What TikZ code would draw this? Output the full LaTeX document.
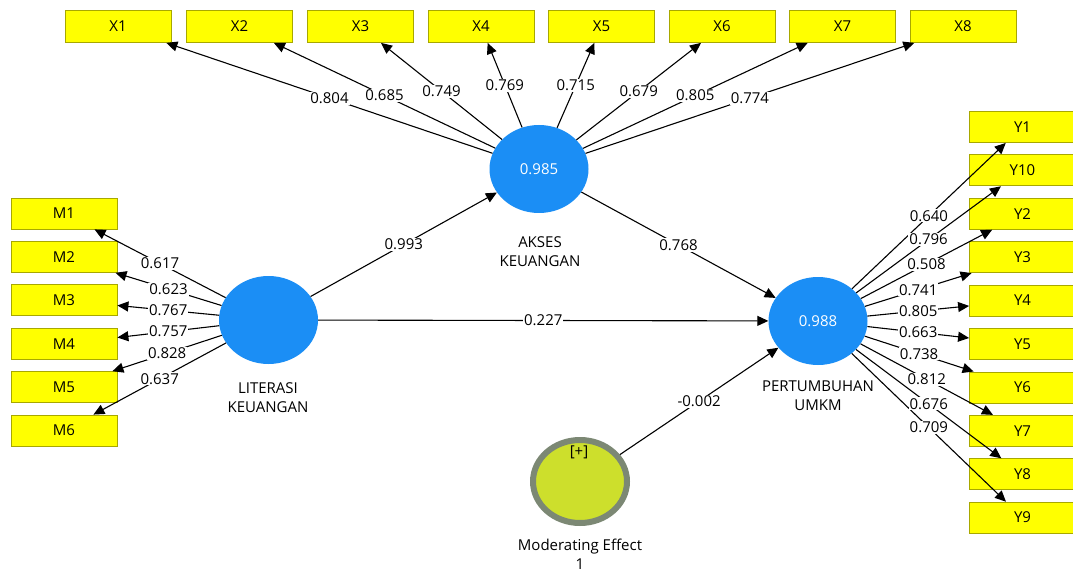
\documentclass[tikz,border=0pt]{standalone}
\usepackage{fontspec}
\setmainfont{Open Sans}
\usetikzlibrary{arrows.meta,shapes.geometric}
\definecolor{boxfill}{HTML}{FFFF00}
\definecolor{boxline}{HTML}{A8A800}
\definecolor{lvblue}{HTML}{1B8EF5}
\definecolor{modfill}{HTML}{CDDF2C}
\definecolor{modline}{HTML}{7C8874}
\newcommand{\dfont}{\fontsize{15}{19}\selectfont}
\begin{document}
\begin{tikzpicture}[x=1pt,y=-1pt,
  ind/.style={draw=boxline, fill=boxfill, line width=0.8pt, minimum width=106pt,
    minimum height=31pt, inner sep=0pt, font=\dfont},
  lv/.style={ellipse, fill=lvblue, minimum width=99pt, minimum height=88pt,
    inner sep=0pt, text=white, font=\dfont},
  modlv/.style={ellipse, fill=modfill, draw=modline, line width=6pt,
    minimum width=94pt, minimum height=83pt, inner sep=0pt, outer sep=3pt},
  link/.style={line width=1.1pt, -{Triangle[length=11pt,width=10pt]}},
  coef/.style={fill=white, inner sep=1pt, font=\dfont},
  lvname/.style={align=center, font=\dfont, inner sep=0pt}]
\useasboundingbox[fill=white] (0,0) rectangle (1073,572);

% latent variables
\node[lv] (L) at (268.5,320) {};
\node[lv] (A) at (539,169) {0.985};
\node[lv] (P) at (818,321) {0.988};
\node[modlv] (ME) at (580,481.5) {};
\node[font=\dfont, inner sep=0pt] (MEp) at (579,452) {[+]};

\node[lvname] (Ln) at (268,397.5) {LITERASI\\KEUANGAN};
\node[lvname] (An) at (540,252) {AKSES\\KEUANGAN};
\node[lvname] (Pn) at (818,396) {PERTUMBUHAN\\UMKM};
\node[lvname] (MEn) at (580,554.5) {Moderating Effect\\1};

% indicators
\foreach \i/\x in {1/118,2/239.5,3/360.5,4/481,5/601.5,6/722,7/842.5,8/963}
  \node[ind, minimum height=32pt] (X\i) at (\x,26.5) {X\i};
\foreach \i [count=\k from 0] in {1,2,3,4,5,6}
  \node[ind] (M\i) at (64,213.5+43.4*\k) {M\i};
\foreach \i [count=\k from 0] in {1,10,2,3,4,5,6,7,8,9}
  \node[ind] (Y\i) at (1022.5,127+43.4*\k) {Y\i};

% connectors
\foreach \i in {1,...,8} \draw[link] (A) -- (X\i);
\foreach \i in {1,...,6} \draw[link] (L) -- (M\i);
\foreach \i in {1,...,10} \draw[link] (P) -- (Y\i);
\draw[link] (L) -- (A);
\draw[link] (L) -- (P);
\draw[link] (A) -- (P);
\draw[link] (ME) -- (P);

% coefficients
\foreach \i/\v in {1/0.804,2/0.685,3/0.749,4/0.769,5/0.715,6/0.679,7/0.805,8/0.774}
  \path (A) -- node[coef] {\v} (X\i);
\foreach \i/\v in {1/0.617,2/0.623,3/0.767,4/0.757,5/0.828,6/0.637}
  \path (L) -- node[coef] {\v} (M\i);
\foreach \i/\v in {1/0.640,10/0.796,2/0.508,3/0.741,4/0.805,5/0.663,6/0.738,7/0.812,8/0.676,9/0.709}
  \path (P) -- node[coef] {\v} (Y\i);
\path (L) -- node[coef] {0.993} (A);
\path (L) -- node[coef] {0.227} (P);
\path (A) -- node[coef] {0.768} (P);
\path (ME) -- node[coef] {-0.002} (P);
\end{tikzpicture}
\end{document}
